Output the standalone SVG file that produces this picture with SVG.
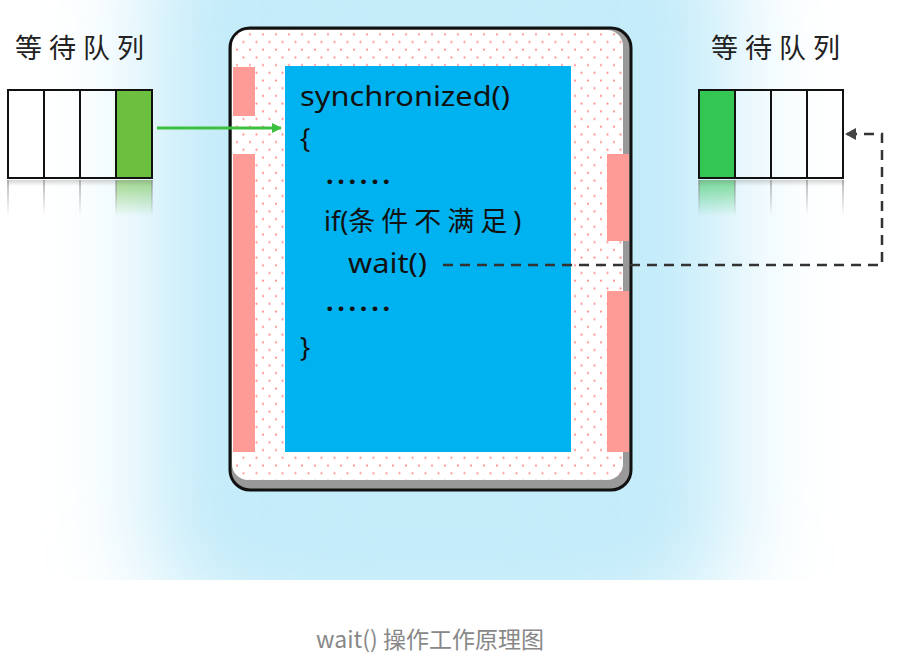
<svg xmlns="http://www.w3.org/2000/svg" width="909" height="661" viewBox="0 0 909 661">
<style>
.lbl{font-family:"Noto Sans CJK SC","Noto Sans",sans-serif;font-size:27px;fill:#222;letter-spacing:7px}
.code{font-family:"Noto Sans","Noto Sans CJK SC",sans-serif;font-size:27px;fill:#111}
.cap{font-family:"Noto Sans CJK SC","Noto Sans",sans-serif;font-size:23px;fill:#888}
</style>
<defs>
<filter id="blur" x="-50%" y="-50%" width="200%" height="200%"><feGaussianBlur stdDeviation="50"/></filter>
<clipPath id="bgclip"><rect x="0" y="0" width="909" height="580"/></clipPath>
<pattern id="dots" width="13" height="15.4" patternUnits="userSpaceOnUse">
<rect width="13" height="15.4" fill="#fff"/>
<circle cx="3" cy="3.5" r="1.1" fill="#ff8f8f"/>
<circle cx="9.5" cy="11.2" r="1.1" fill="#ff8f8f"/>
</pattern>
<linearGradient id="fadeGray" x1="0" y1="0" x2="0" y2="1">
<stop offset="0" stop-color="#888" stop-opacity="0.6"/>
<stop offset="1" stop-color="#888" stop-opacity="0"/>
</linearGradient>
<linearGradient id="fadeG1" x1="0" y1="0" x2="0" y2="1">
<stop offset="0" stop-color="#6dbf3f" stop-opacity="0.6"/>
<stop offset="1" stop-color="#6dbf3f" stop-opacity="0"/>
</linearGradient>
<linearGradient id="fadeG2" x1="0" y1="0" x2="0" y2="1">
<stop offset="0" stop-color="#33c653" stop-opacity="0.6"/>
<stop offset="1" stop-color="#33c653" stop-opacity="0"/>
</linearGradient>
<marker id="arrG" markerWidth="10" markerHeight="10" refX="9" refY="5" orient="auto" markerUnits="userSpaceOnUse">
<path d="M0,0 L10,5 L0,10 Z" fill="#3cc040"/>
</marker>
<marker id="arrD" markerWidth="12" markerHeight="12" refX="11" refY="6" orient="auto" markerUnits="userSpaceOnUse">
<path d="M0,0 L11,6 L0,12 Z" fill="#444"/>
</marker>
</defs>

<rect width="909" height="661" fill="#fff"/>
<g clip-path="url(#bgclip)">
<rect x="150" y="-100" width="580" height="720" rx="80" fill="#c2ebf9" filter="url(#blur)"/>
<rect x="260" y="-60" width="360" height="640" fill="#c4ecf9" filter="url(#blur)"/>
</g>

<g id="monitor">
<rect x="230" y="28" width="401" height="462" rx="20" fill="#999" stroke="#111" stroke-width="3"/>
<rect x="232" y="30" width="391" height="450" rx="16" fill="url(#dots)"/>
<rect x="233" y="67" width="22" height="49" fill="#ff9b96"/>
<rect x="233" y="154" width="22" height="298" fill="#ff9b96"/>
<rect x="607" y="154" width="22" height="87" fill="#ff9b96"/>
<rect x="607" y="291" width="22" height="161" fill="#ff9b96"/>
</g>

<g id="code-block">
<rect x="285" y="66" width="286" height="386" fill="#00b2ef"/>
<text class="code" x="300" y="106" textLength="210" lengthAdjust="spacingAndGlyphs">synchronized()</text>
<text class="code" x="300" y="148">{</text>
<text class="code" x="326" y="184" textLength="64" lengthAdjust="spacing" font-weight="bold">......</text>
<text class="code" x="324" y="231">if(<tspan letter-spacing="6">条件不满足</tspan>)</text>
<text class="code" x="348" y="273" textLength="79" lengthAdjust="spacingAndGlyphs">wait()</text>
<text class="code" x="326" y="311" textLength="64" lengthAdjust="spacing" font-weight="bold">......</text>
<text class="code" x="300" y="357">}</text>
</g>

<g id="left-queue">
<text class="lbl" x="15" y="58">等待队列</text>
<rect x="116" y="90" width="36" height="88" fill="#6dbf3f"/>
<rect x="8" y="90" width="144" height="88" fill="none" stroke="#111" stroke-width="2"/>
<path d="M44,90V178M80,90V178M116,90V178" stroke="#111" stroke-width="2"/>
<rect x="116" y="180" width="36" height="36" fill="url(#fadeG1)"/>
<rect x="7" y="180" width="146" height="6" fill="url(#fadeGray)" opacity="0.6"/>
<rect x="7" y="180" width="2" height="36" fill="url(#fadeGray)"/>
<rect x="43" y="180" width="2" height="36" fill="url(#fadeGray)"/>
<rect x="79" y="180" width="2" height="36" fill="url(#fadeGray)"/>
<rect x="115" y="180" width="2" height="36" fill="url(#fadeGray)"/>
<rect x="151" y="180" width="2" height="36" fill="url(#fadeGray)"/>
</g>

<g id="right-queue">
<text class="lbl" x="711" y="58">等待队列</text>
<rect x="699" y="90" width="36" height="88" fill="#33c653"/>
<rect x="699" y="90" width="144" height="88" fill="none" stroke="#111" stroke-width="2"/>
<path d="M735,90V178M771,90V178M807,90V178" stroke="#111" stroke-width="2"/>
<rect x="699" y="180" width="36" height="36" fill="url(#fadeG2)"/>
<rect x="698" y="180" width="146" height="6" fill="url(#fadeGray)" opacity="0.6"/>
<rect x="698" y="180" width="2" height="36" fill="url(#fadeGray)"/>
<rect x="734" y="180" width="2" height="36" fill="url(#fadeGray)"/>
<rect x="770" y="180" width="2" height="36" fill="url(#fadeGray)"/>
<rect x="806" y="180" width="2" height="36" fill="url(#fadeGray)"/>
<rect x="842" y="180" width="2" height="36" fill="url(#fadeGray)"/>
</g>

<g id="connectors">
<line x1="157" y1="128" x2="281" y2="128" stroke="#3cc040" stroke-width="3" marker-end="url(#arrG)"/>
<path d="M443,265 H882 V134 H845" fill="none" stroke="#333" stroke-width="2.5" stroke-dasharray="10,7" marker-end="url(#arrD)"/>
</g>

<text class="cap" x="430" y="648" text-anchor="middle">wait() 操作工作原理图</text>
</svg>
